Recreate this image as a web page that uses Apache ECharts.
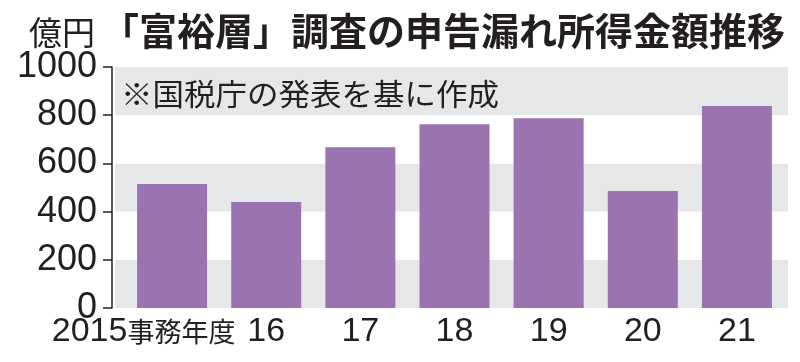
<!DOCTYPE html>
<html><head><meta charset="utf-8">
<script src="https://cdn.jsdelivr.net/npm/echarts@6/dist/echarts.min.js"></script>
<style>html,body{margin:0;padding:0;background:#fff}#c{width:800px;height:362px}</style>
</head><body><div id="c"></div>
<script>
const categories = ['2015', '16', '17', '18', '19', '20', '21'];
const values = [515, 440, 667, 762, 787, 485, 838];
const yMin = 0, yMax = 1000, yStep = 200;
const unitText = '億円';
const titleText = '「富裕層」調査の申告漏れ所得金額推移';
const noteText = '※国税庁の発表を基に作成';
const firstSuffix = '事務年度';

const ink = '#231f20';
const chart = echarts.init(document.getElementById('c'), null, {renderer: 'canvas'});
chart.setOption({
  animation: false,
  backgroundColor: '#fff',
  grid: [
    {left: 115, top: 67, width: 673, height: 241},
    {left: 125, top: 67, width: 659, height: 241}
  ],
  xAxis: [
    {gridIndex: 0, type: 'category', data: categories, show: false},
    {gridIndex: 1, type: 'category', data: categories,
     axisLine: {show: false}, axisTick: {show: false},
     axisLabel: {
       margin: 5, color: ink, interval: 0,
       formatter: (v, i) => i === 0 ? `{n|${v}}{c|${firstSuffix}}{g|}` : `{n|${v}}`,
       rich: {
         n: {fontFamily: '"Liberation Sans", sans-serif', fontSize: 34, color: ink, lineHeight: 38},
         c: {fontFamily: '"Noto Sans CJK JP", sans-serif', fontSize: 27, color: ink, lineHeight: 38},
         g: {width: 57}
       }
     }}
  ],
  yAxis: [
    {gridIndex: 0, type: 'value', min: yMin, max: yMax, interval: yStep, offset: 3,
     axisLine: {show: true, lineStyle: {color: ink, width: 1.5}},
     axisTick: {show: true, length: 9, lineStyle: {color: ink, width: 1.5}},
     axisLabel: {margin: 15, color: ink, fontFamily: '"Liberation Sans", sans-serif', fontSize: 36,
                 formatter: v => String(v)},
     splitLine: {show: false},
     splitArea: {show: true, areaStyle: {color: ['#e6e7e8', '#ffffff']}}},
    {gridIndex: 1, type: 'value', min: yMin, max: yMax, interval: yStep, show: false,
     splitLine: {show: false}}
  ],
  series: [{
    type: 'bar', xAxisIndex: 1, yAxisIndex: 1, data: values, barWidth: 70,
    itemStyle: {color: '#9b73b1'}
  }],
  graphic: [
    {type: 'text', x: 29, y: 32, z: 10,
     style: {text: unitText, fontFamily: '"Noto Sans CJK JP", sans-serif', fontSize: 33, fill: ink, verticalAlign: 'middle'}},
    {type: 'text', x: 101, y: 31, z: 10,
     style: {text: titleText, fontFamily: '"Noto Sans CJK JP", sans-serif', fontSize: 38, fontWeight: 'bold', fill: ink, verticalAlign: 'middle'}},
    {type: 'text', x: 121, y: 94, scaleX: 1.05, z: 10,
     style: {text: noteText, fontFamily: '"Noto Sans CJK JP", sans-serif', fontSize: 30, fill: ink, verticalAlign: 'middle'}}
  ]
});
</script></body></html>
